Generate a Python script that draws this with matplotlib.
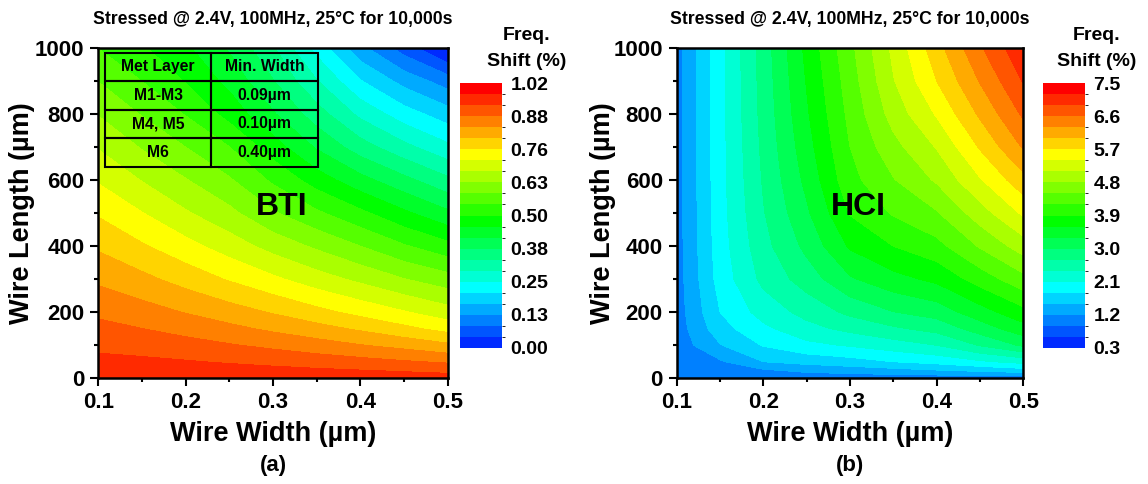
import numpy as np
import matplotlib
matplotlib.use("Agg")
import matplotlib.pyplot as plt
from matplotlib.colors import ListedColormap, BoundaryNorm
from matplotlib.cm import ScalarMappable

plt.rcParams["font.family"] = ["Liberation Sans", "DejaVu Sans"]
plt.rcParams["font.weight"] = "bold"

# grid of wire geometries (um)
widths = [0.10, 0.15, 0.20, 0.25, 0.30, 0.35, 0.40, 0.45, 0.50]
lengths = [0, 25, 50, 100, 150, 200, 300, 400, 500, 600, 700, 800, 900, 1000]

# BTI freq. shift (%) -- one row per length, one column per width
bti_shift = [
    [0.967, 0.967, 0.967, 0.966, 0.965, 0.964, 0.962, 0.959, 0.955],
    [0.957, 0.955, 0.953, 0.950, 0.945, 0.940, 0.935, 0.929, 0.922],
    [0.946, 0.943, 0.938, 0.931, 0.924, 0.916, 0.907, 0.897, 0.887],
    [0.925, 0.918, 0.908, 0.896, 0.883, 0.868, 0.852, 0.836, 0.816],
    [0.905, 0.893, 0.878, 0.861, 0.842, 0.823, 0.801, 0.776, 0.750],
    [0.884, 0.868, 0.848, 0.827, 0.804, 0.778, 0.752, 0.726, 0.698],
    [0.842, 0.819, 0.791, 0.761, 0.731, 0.699, 0.670, 0.639, 0.613],
    [0.801, 0.770, 0.737, 0.702, 0.664, 0.630, 0.595, 0.557, 0.523],
    [0.760, 0.724, 0.685, 0.649, 0.600, 0.560, 0.520, 0.476, 0.434],
    [0.718, 0.678, 0.640, 0.600, 0.545, 0.490, 0.440, 0.395, 0.350],
    [0.677, 0.634, 0.595, 0.553, 0.488, 0.420, 0.360, 0.310, 0.265],
    [0.635, 0.592, 0.550, 0.495, 0.430, 0.360, 0.287, 0.232, 0.190],
    [0.594, 0.552, 0.507, 0.455, 0.385, 0.300, 0.215, 0.155, 0.107],
    [0.552, 0.515, 0.475, 0.420, 0.345, 0.240, 0.140, 0.065, -0.010],
]

# HCI freq. shift (%)
hci_shift = [
    [0.95, 0.97, 1.00, 1.00, 1.00, 1.00, 1.00, 1.00, 1.00],
    [0.97, 1.05, 1.17, 1.28, 1.35, 1.42, 1.50, 1.60, 1.70],
    [0.99, 1.16, 1.50, 1.60, 1.68, 1.80, 1.90, 2.05, 2.20],
    [1.02, 1.48, 1.82, 2.02, 2.13, 2.26, 2.40, 2.72, 3.05],
    [1.04, 1.68, 2.03, 2.30, 2.48, 2.65, 2.80, 3.14, 3.48],
    [1.05, 1.80, 2.22, 2.50, 2.77, 2.99, 3.13, 3.47, 3.80],
    [1.06, 1.92, 2.48, 2.84, 3.26, 3.50, 3.67, 4.03, 4.40],
    [1.07, 1.96, 2.60, 3.08, 3.64, 3.90, 4.10, 4.53, 4.95],
    [1.07, 1.98, 2.68, 3.25, 3.92, 4.23, 4.47, 4.96, 5.45],
    [1.08, 1.99, 2.73, 3.38, 4.10, 4.48, 4.84, 5.37, 5.90],
    [1.08, 1.99, 2.77, 3.48, 4.20, 4.70, 5.12, 5.73, 6.33],
    [1.08, 2.00, 2.80, 3.56, 4.28, 4.92, 5.43, 6.05, 6.65],
    [1.08, 2.00, 2.82, 3.62, 4.35, 5.08, 5.70, 6.32, 6.92],
    [1.08, 2.00, 2.84, 3.68, 4.42, 5.17, 5.88, 6.56, 7.15],
]

bti_tick_labels = ["0.00", "0.13", "0.25", "0.38", "0.50", "0.63", "0.76", "0.88", "1.02"]
hci_tick_labels = ["0.3", "1.2", "2.1", "3.0", "3.9", "4.8", "5.7", "6.6", "7.5"]

title = "Stressed @ 2.4V, 100MHz, 25°C for 10,000s"
table_header = ["Met Layer", "Min. Width"]
met_layers = ["M1-M3", "M4, M5", "M6"]
min_widths = ["0.09µm", "0.10µm", "0.40µm"]

# Origin-style 24 step palette, bottom -> top
band_colors = ["#002AFF", "#0055FF", "#0080FF", "#00AAFF", "#00D4FF", "#00FFFF",
               "#00FFD4", "#00FFAA", "#00FF80", "#00FF55", "#00FF2A", "#00FF00",
               "#2AFF00", "#55FF00", "#80FF00", "#AAFF00", "#D4FF00", "#FFFF00",
               "#FFD400", "#FFAA00", "#FF8000", "#FF5500", "#FF2A00", "#FF0000"]
cmap = ListedColormap(band_colors)
cmap_ext = ListedColormap(band_colors)
cmap_ext.set_under("#0000FF")
cmap_ext.set_over("#FF0000")

W = 1148
H = 484
fig = plt.figure(figsize=(W / 100, H / 100), dpi=100)


def px_box(x0, y0, x1, y1):
    return [x0 / W, 1 - y1 / H, (x1 - x0) / W, (y1 - y0) / H]


def draw_panel(ax, cax, z, vmin, vmax, tick_labels, name, tag, cb_x, ylab_x):
    levels = np.linspace(vmin, vmax, 25)
    ax.contourf(widths, lengths, np.array(z), levels=levels, cmap=cmap_ext, extend="both")
    ax.set_xlim(0.1, 0.5)
    ax.set_ylim(0, 1000)
    ax.set_xticks([0.1, 0.2, 0.3, 0.4, 0.5])
    ax.set_xticks(np.arange(0.15, 0.5, 0.1), minor=True)
    ax.set_yticks(range(0, 1001, 200))
    ax.set_yticks(range(100, 1000, 200), minor=True)
    ax.tick_params(which="major", length=6, width=1.5, labelsize=16, pad=4)
    ax.tick_params(which="minor", length=3, width=1.5)
    for sp in ax.spines.values():
        sp.set_linewidth(1.8)
    for lab in ax.get_xticklabels() + ax.get_yticklabels():
        lab.set_fontweight("bold")
    ax.set_xlabel("Wire Width (µm)", fontsize=19.5, fontweight="bold")
    ax.set_ylabel("Wire Length (µm)", fontsize=19.5, fontweight="bold")
    ax.xaxis.set_label_coords(0.5, -0.13)
    ax.yaxis.set_label_coords(ylab_x, 0.5)
    ax.set_title(title, fontsize=12.7, fontweight="bold", pad=17)
    ax.text(0.525, 0.52, name, transform=ax.transAxes, ha="center", va="center",
            fontsize=23, fontweight="bold")
    ax.text(0.5, -0.263, tag, transform=ax.transAxes, ha="center", va="center",
            fontsize=16, fontweight="bold")

    sm = ScalarMappable(norm=BoundaryNorm(levels, cmap.N), cmap=cmap)
    cb = fig.colorbar(sm, cax=cax, ticks=levels[::3])
    cb.outline.set_visible(False)
    cb.ax.set_yticklabels(tick_labels)
    cb.ax.tick_params(length=0, labelsize=14, pad=6)
    for lab in cb.ax.get_yticklabels():
        lab.set_fontweight("bold")
    fig.text(cb_x / W, 1 - 36 / H, "Freq.", ha="center", va="center", fontsize=14, fontweight="bold")
    fig.text(cb_x / W, 1 - 62 / H, "Shift (%)", ha="center", va="center", fontsize=14, fontweight="bold")


ax_a = fig.add_axes(px_box(98.3, 48, 447.7, 378.3))
cax_a = fig.add_axes(px_box(460, 83, 502, 348))
draw_panel(ax_a, cax_a, bti_shift, 0.0, 1.02, bti_tick_labels, "BTI", "(a)", 527, -0.18)

# metal layer table in the corner of panel (a)
rows = [table_header] + [[m, w] for m, w in zip(met_layers, min_widths)]
tbl = ax_a.table(cellText=rows, cellLoc="center", bbox=[0.019, 0.641, 0.609, 0.345])
tbl.set_zorder(5)
tbl.auto_set_font_size(False)
tbl.set_fontsize(11.3)
for cell in tbl.get_celld().values():
    cell.set_facecolor("none")
    cell.set_edgecolor("black")
    cell.set_linewidth(1.5)
    cell.get_text().set_fontweight("bold")

ax_b = fig.add_axes(px_box(676.7, 48, 1023.3, 378.3))
cax_b = fig.add_axes(px_box(1043, 83, 1085, 348))
draw_panel(ax_b, cax_b, hci_shift, 0.3, 7.5, hci_tick_labels, "HCI", "(b)", 1097, -0.175)

fig.savefig("out.png", dpi=100)
